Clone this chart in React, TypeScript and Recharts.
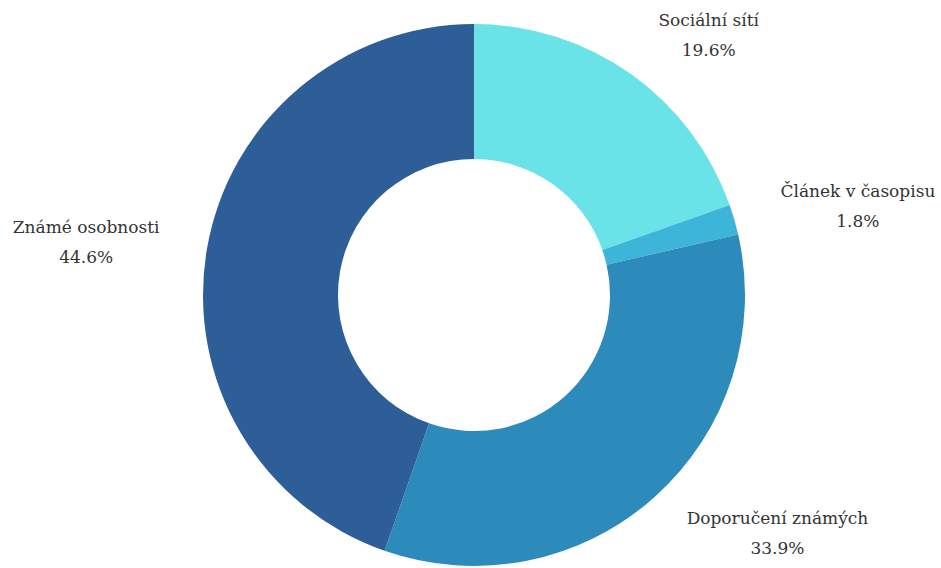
import { Cell, Pie, PieChart } from "recharts"

const categories = ["Sociální sítí", "Článek v časopisu", "Doporučení známých", "Známé osobnosti"]
const shares = [19.6, 1.8, 33.9, 44.6]
const colors = ["#69e3e8", "#3db5d8", "#2d8bbb", "#2d5e98"]

const data = categories.map((name, i) => ({ name, value: shares[i] }))

const FONT = "DejaVu Serif"
const FONT_SIZE = 17
const RADIAN = Math.PI / 180

let ctx: CanvasRenderingContext2D | null = null
function textWidth(text: string) {
  if (!ctx) ctx = document.createElement("canvas").getContext("2d")
  if (!ctx) return text.length * FONT_SIZE * 0.55
  ctx.font = `${FONT_SIZE}px "${FONT}"`
  return ctx.measureText(text).width
}

// two-line outside label: name over percentage, anchored at outerRadius + 48
const renderLabel = (props: any) => {
  const { cx, cy, midAngle, outerRadius, name, value } = props
  const r = outerRadius + 48
  const cos = Math.cos(-midAngle * RADIAN)
  const sin = Math.sin(-midAngle * RADIAN)
  const x = cx + r * cos
  const y = cy + r * sin
  const w = textWidth(name)
  const mid = cos >= 0 ? x + w / 2 : x - w / 2
  return (
    <g key={name}>
      <text x={mid} y={y - 9} textAnchor="middle" fontFamily={FONT} fontSize={FONT_SIZE} fill="#333">
        {name}
      </text>
      <text x={mid} y={y + 21} textAnchor="middle" fontFamily={FONT} fontSize={FONT_SIZE} fill="#333">
        {`${value.toFixed(1)}%`}
      </text>
    </g>
  )
}

export default function App() {
  return (
    <div style={{ position: "absolute", left: 0, top: 0, width: 941, height: 568, background: "#fff" }}>
      <PieChart width={941} height={568} margin={{ top: 0, right: 0, bottom: 0, left: 0 }}>
        <Pie
          data={data}
          dataKey="value"
          nameKey="name"
          cx={474}
          cy={295}
          innerRadius={136}
          outerRadius={271}
          startAngle={90}
          endAngle={-270}
          stroke="none"
          label={renderLabel}
          labelLine={false}
          isAnimationActive={false}
        >
          {data.map((d, i) => (
            <Cell key={d.name} fill={colors[i]} />
          ))}
        </Pie>
      </PieChart>
    </div>
  )
}
